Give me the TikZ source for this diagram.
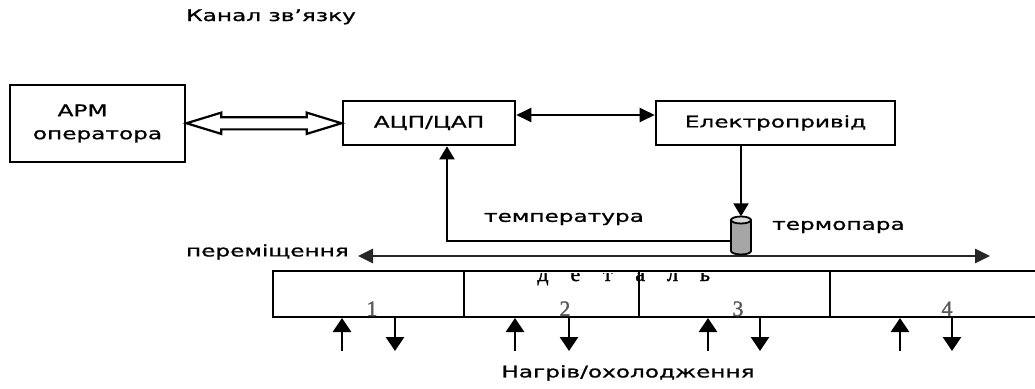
\documentclass[tikz,border=0pt]{standalone}
\usepackage{fontspec}
\setmainfont{DejaVu Sans}[FakeStretch=1.45,FakeBold=1]
\newfontfamily\detfont{Liberation Serif}[FakeBold=1.5]
\usetikzlibrary{arrows.meta,shapes.arrows,calc}

\begin{document}
\begin{tikzpicture}[
    x=1pt, y=-1pt,
    font=\fontsize{16}{23}\selectfont,
    block/.style={rectangle, draw, line width=2.6pt, inner sep=0pt, align=center},
    arrow/.style={-{Triangle[width=15pt,length=13pt]}, line width=2.4pt},
    twoway/.style={{Triangle[width=14pt,length=15pt]}-{Triangle[width=14pt,length=15pt]}, line width=2.4pt},
    flow/.style={-{Triangle[width=18pt,length=14pt]}, line width=2.8pt},
    caption/.style={inner sep=0pt},
    digit/.style={font=\detfont\fontsize{22}{22}\selectfont, text=black!65, inner sep=0pt, anchor=base}
]
    \useasboundingbox (0,0) rectangle (1035,388);

    \node [caption, anchor=base west] (channel) at (186,21) {Канал зв'язку};

    \node [block, minimum width=175pt, minimum height=77pt] (apm) at (97.5,123.5) {АРМ\hphantom{АР}\\оператора};
    \node [block, minimum width=172pt, minimum height=44pt] (adc) at (429,123) {АЦП/ЦАП};
    \node [block, minimum width=239pt, minimum height=44pt] (drive) at (775.5,123) {Електропривід};

    \node [double arrow, draw, line width=2.2pt, inner xsep=0pt, inner ysep=5pt, minimum height=155pt,
           double arrow head extend=4.5pt, double arrow tip angle=34] (link) at ($(apm.east)!0.5!(adc.west)$) {};
    \draw [twoway] ([yshift=8pt]adc.east) -- ([yshift=8pt]drive.west);

    % detail and motion
    \coordinate (mvL) at (358,256);
    \coordinate (mvR) at (990,256);
    \draw [{Triangle[width=14pt,length=15pt]}-{Triangle[width=14pt,length=15pt]}, line width=2.8pt,
           dash pattern=on 1.2pt off 0.8pt, draw=black!85] (mvL) -- (mvR);
    \node [caption, anchor=east] (move) at (349,252) {переміщення};

    % thermocouple
    \node [minimum width=20pt, minimum height=38pt, inner sep=0pt] (tc) at (741,235.5) {};
    \filldraw [fill=gray!70, line width=1.8pt] (731,220) -- (731,251)
        arc [start angle=180, end angle=360, x radius=10pt, y radius=3.5pt] -- (751,220) -- cycle;
    \filldraw [fill=gray!30, line width=1.8pt] (741,220) ellipse [x radius=10pt, y radius=3.5pt];
    \draw [arrow] (drive.south -| tc) -- (tc.north);
    \coordinate (bend) at (447,241);
    \draw [arrow, line width=2pt] (bend -| tc.west) -- (bend) -- (bend |- adc.south);
    \node [caption] (temp) at (564,219) {температура};
    \node [caption, anchor=west] (tclabel) at (772,227) {термопара};

    \draw [line width=2.5pt] (1040,271) -- (273,271) -- (273,317) -- (1040,317);
    \foreach \x in {464,639,830}
        \draw [line width=2.5pt] (\x,271) -- (\x,317);
    \begin{scope}
        \clip (273,273) rectangle (1035,317);
        \foreach \ch [count=\i] in {д,е,т,а,л,ь}
            \node [font=\detfont\fontsize{22}{22}\selectfont, anchor=base, inner sep=0pt] (part\i) at ({543+32.4*(\i-1)},281) {\ch};
    \end{scope}
    \foreach \n/\x in {1/372,2/565,3/738,4/947}
        \node [digit] (seg\n) at (\x,316) {\n};

    \foreach \u/\d [count=\i] in {342/395,515/569,708/760,900/952} {
        \coordinate (heatA\i) at (\u,351); \coordinate (heatB\i) at (\u,318);
        \coordinate (coolA\i) at (\d,318); \coordinate (coolB\i) at (\d,351);
        \draw [flow] (heatA\i) -- (heatB\i);
        \draw [flow] (coolA\i) -- (coolB\i);
    }
    \node [caption] (heat) at (628,373) {Нагрів/охолодження};
\end{tikzpicture}
\end{document}
